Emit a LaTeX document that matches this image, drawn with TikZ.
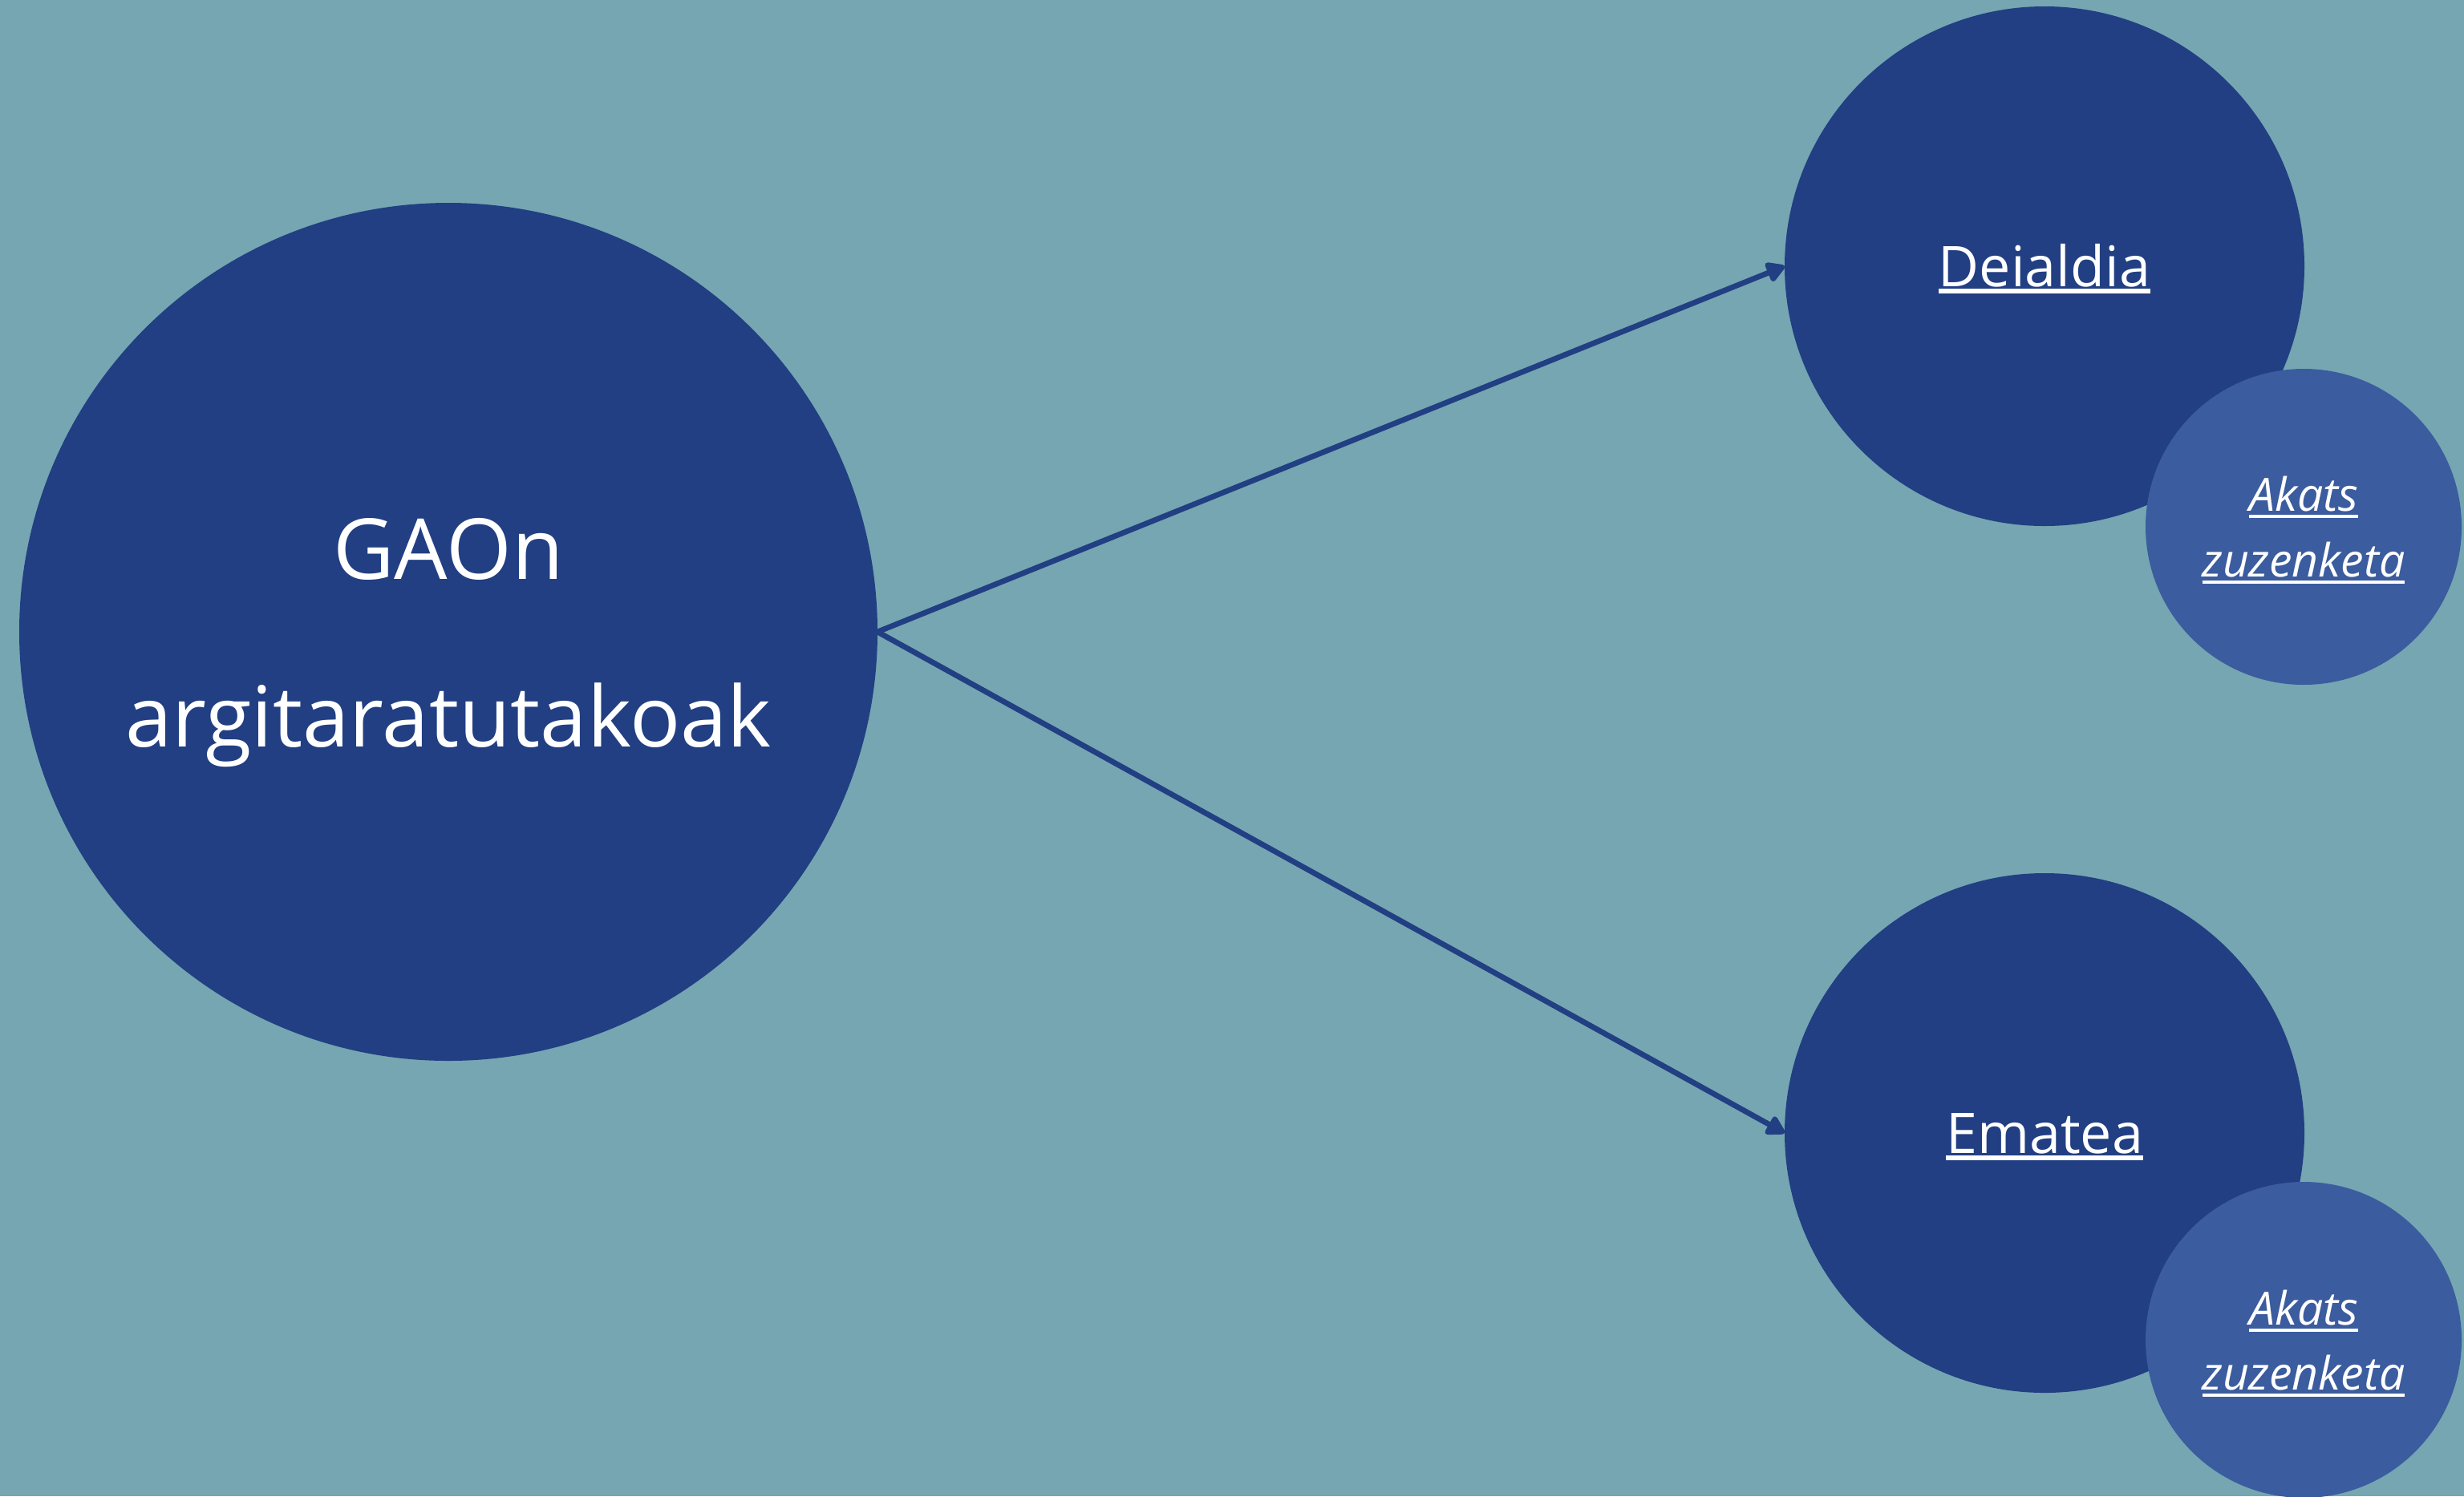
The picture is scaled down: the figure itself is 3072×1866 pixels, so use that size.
\documentclass[tikz,border=0pt]{standalone}
\usepackage{fontspec}
\setmainfont{Open Sans}
\usetikzlibrary{arrows.meta}
\definecolor{bgteal}{HTML}{75A6B2}
\definecolor{darkblue}{HTML}{213F82}
\definecolor{lightblue}{HTML}{3B5C9E}
\newcommand{\myul}[2]{\setbox0\hbox{#2}\rlap{\rule[-2.25pt]{\wd0}{#1}}\box0}
\begin{document}
\begin{tikzpicture}[x=0.25pt,y=-0.25pt,
  bigcirc/.style={circle,fill=darkblue,inner sep=0pt,outer sep=0pt,minimum size=267.5pt},
  midcirc/.style={circle,fill=darkblue,inner sep=0pt,outer sep=0pt,minimum size=162pt},
  smallcirc/.style={circle,fill=lightblue,inner sep=0pt,outer sep=0pt,minimum size=98.5pt},
  bigtxt/.style={anchor=base,text=white,inner sep=0pt,font=\fontsize{26.25pt}{31pt}\selectfont},
  midtxt/.style={anchor=base,text=white,inner sep=0pt,font=\fontsize{17.5pt}{21pt}\selectfont},
  smalltxt/.style={anchor=base,text=white,inner sep=0pt,font=\fontsize{14.3pt}{17pt}\selectfont\itshape},
  conn/.style={draw=darkblue,line width=1.7pt,-{Triangle[length=6.5pt,width=7pt,round]}}]
\fill[bgteal] (0,0) rectangle (3072,1866);
\useasboundingbox (0,0) rectangle (3072,1866);
\node[bigcirc] (gao) at (559,788) {};
\node[midcirc] (deialdia) at (2549,332) {};
\node[midcirc] (ematea) at (2549,1413) {};
\node[smallcirc] (akats1) at (2872,657) {};
\node[smallcirc] (akats2) at (2872,1671) {};
\node[bigtxt] (gaoa) at (559,722) {GAOn};
\node[bigtxt] (gaob) at (559,931) {argitaratutakoak};
\node[midtxt] (deitxt) at (2549,357) {\myul{1.4pt}{Deialdia}};
\node[midtxt] (ematxt) at (2549,1438) {\myul{1.4pt}{Ematea}};
\node[smalltxt] (ak1a) at (2872,637) {\myul{1.1pt}{Akats}};
\node[smalltxt] (ak1b) at (2872,719) {\myul{1.1pt}{zuzenketa}};
\node[smalltxt] (ak2a) at (2872,1652) {\myul{1.1pt}{Akats}};
\node[smalltxt] (ak2b) at (2872,1733) {\myul{1.1pt}{zuzenketa}};
\draw[conn] (gao.east) -- (deialdia.west);
\draw[conn] (gao.east) -- (ematea.west);
\end{tikzpicture}
\end{document}
